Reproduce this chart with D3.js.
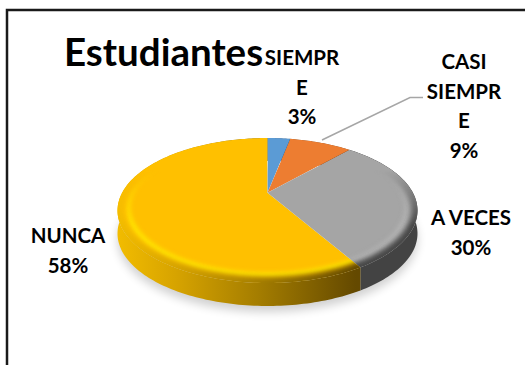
<!DOCTYPE html>
<html>
<head>
<meta charset="utf-8">
<script src="https://cdn.jsdelivr.net/npm/d3@7"></script>
<style>
  html, body { margin: 0; padding: 0; background: #fff; overflow: hidden; }
  text { font-family: Lato, "Open Sans", sans-serif; font-weight: 700; fill: #000; }
</style>
</head>
<body>
<svg id="chart" width="525" height="365"></svg>
<script>
// Chart data
const chartTitle = "Estudiantes";
const categories = ["SIEMPRE", "CASI SIEMPRE", "A VECES", "NUNCA"];
const percents = [3.1, 8.5, 30, 58.4];
const labelLines = [["SIEMPR", "E"], ["CASI", "SIEMPR", "E"], ["A VECES"], ["NUNCA"]];

// Styles and layout
const topColors = ["#5b9bd5", "#ed7d31", "#a5a5a5", "#ffc000"];
const rimColors = ["#4a86bd", "#c9641f", "#464646", "url(#sideYellow)"];
const glowColors = ["#7db3e3", "#f59a5c", "#b4b4b4", "#ffe600"];
const labelAnchors = [[302, 65], [464, 69], [471, 225], [68, 243]];
const lineHeight = 29.5;

const svg = d3.select("#chart");
const defs = svg.append("defs");

// Tilted disc: perspective makes the back of the pie smaller than the front
const cx = 267.5, cy = 192.7, radius = 145.4, squash = 68.1, persp = 0.2456, depth = 23;

function project(angle, r = 1, dy = 0) {
  const w = 1 + persp * r * Math.cos(angle);
  return [
    cx + radius * r * Math.sin(angle) / w,
    cy - squash * r * Math.cos(angle) / w + dy
  ];
}

function sampleAngles(a0, a1) {
  const n = Math.max(2, Math.ceil((a1 - a0) / 0.02));
  return d3.range(n + 1).map(i => a0 + (a1 - a0) * i / n);
}

const line = d3.line();
const pie = d3.pie().sort(null).startAngle(0).endAngle(2 * Math.PI);
const slices = pie(percents);

function wedgePath(d) {
  return line([[cx, cy], ...sampleAngles(d.startAngle, d.endAngle).map(a => project(a))]) + "Z";
}

function sidePath(d) {
  const angles = sampleAngles(d.startAngle, d.endAngle);
  const upper = angles.map(a => project(a));
  const lower = angles.slice().reverse().map(a => project(a, 1, depth));
  return line([...upper, ...lower]) + "Z";
}

function blur(id, amount) {
  defs.append("filter").attr("id", id)
    .attr("filterUnits", "userSpaceOnUse")
    .attr("x", 0).attr("y", 0).attr("width", 525).attr("height", 365)
    .append("feGaussianBlur").attr("stdDeviation", amount);
}
blur("blurShadow", 5);
blur("blurRim", 2.4);
blur("blurGlow", 2);

const sideYellow = defs.append("linearGradient").attr("id", "sideYellow")
  .attr("gradientUnits", "userSpaceOnUse")
  .attr("x1", 117).attr("x2", 356).attr("y1", 0).attr("y2", 0);
[[0, "#f2bc00"], [0.25, "#d6a300"], [0.6, "#a37c00"], [1, "#644900"]].forEach(s => {
  sideYellow.append("stop").attr("offset", s[0]).attr("stop-color", s[1]);
});
const sideFills = ["#3f6f9c", "#a5561f", "#434343", "url(#sideYellow)"];

// Rim only shows on the near half of the pie
const rimFade = defs.append("linearGradient").attr("id", "rimFade")
  .attr("gradientUnits", "userSpaceOnUse")
  .attr("x1", 0).attr("x2", 0).attr("y1", 170).attr("y2", 225);
[[0, "#000"], [1, "#fff"]].forEach(s => {
  rimFade.append("stop").attr("offset", s[0]).attr("stop-color", s[1]);
});
defs.append("mask").attr("id", "rimMask")
  .attr("maskUnits", "userSpaceOnUse")
  .attr("x", 0).attr("y", 0).attr("width", 525).attr("height", 365)
  .append("rect").attr("width", 525).attr("height", 365).attr("fill", "url(#rimFade)");

// Frame, only top and left edges show in the crop
svg.append("path")
  .attr("d", "M7,365V10H525")
  .attr("fill", "none")
  .attr("stroke", "#1a1a1a")
  .attr("stroke-width", 2.5);

// Soft shadow under the pie
svg.append("path")
  .attr("d", line(sampleAngles(0, 2 * Math.PI).map(a => project(a, 1.0, depth + 6))) + "Z")
  .attr("fill", "#000")
  .attr("opacity", 0.18)
  .attr("filter", "url(#blurShadow)");

// Sides
svg.append("g").selectAll("path")
  .data(slices)
  .join("path")
  .attr("d", sidePath)
  .attr("fill", (d, i) => sideFills[i]);

// Top faces with the bevelled rim clipped to each wedge
const faces = svg.append("g").selectAll("g")
  .data(slices)
  .join("g");

faces.each(function(d, i) {
  const g = d3.select(this);
  defs.append("clipPath").attr("id", "wedge" + i)
    .append("path").attr("d", wedgePath(d));
  const inner = g.append("g").attr("clip-path", `url(#wedge${i})`);
  const arcPts = r => line(sampleAngles(d.startAngle - 0.1, d.endAngle + 0.1).map(a => project(a, r)));

  inner.append("path").attr("d", wedgePath(d)).attr("fill", topColors[i]);
  if (i >= 2) {
    const rim = inner.append("g").attr("mask", "url(#rimMask)");
    rim.append("path").attr("d", arcPts(0.93))
      .attr("fill", "none").attr("stroke", glowColors[i]).attr("stroke-width", 4.5)
      .attr("filter", "url(#blurGlow)");
    rim.append("path").attr("d", arcPts(1.0))
      .attr("fill", "none").attr("stroke", rimColors[i]).attr("stroke-width", 12)
      .attr("filter", "url(#blurRim)");
  }
});

// Leader line for the CASI SIEMPRE label
svg.append("path")
  .attr("d", "M322,140L410,97.5H423")
  .attr("fill", "none")
  .attr("stroke", "#a6a6a6")
  .attr("stroke-width", 1.5);

// Data labels
const labels = svg.append("g").selectAll("text")
  .data(categories)
  .join("text")
  .attr("text-anchor", "middle")
  .attr("font-size", 20.5);

labels.each(function(d, i) {
  const rows = [...labelLines[i], Math.round(percents[i]) + "%"];
  d3.select(this).selectAll("tspan")
    .data(rows)
    .join("tspan")
    .attr("x", labelAnchors[i][0])
    .attr("y", (r, j) => labelAnchors[i][1] + j * lineHeight)
    .text(r => r);
});

// Title
svg.append("text")
  .attr("x", 64)
  .attr("y", 66)
  .attr("font-size", 38.5)
  .text(chartTitle);
</script>
</body>
</html>
